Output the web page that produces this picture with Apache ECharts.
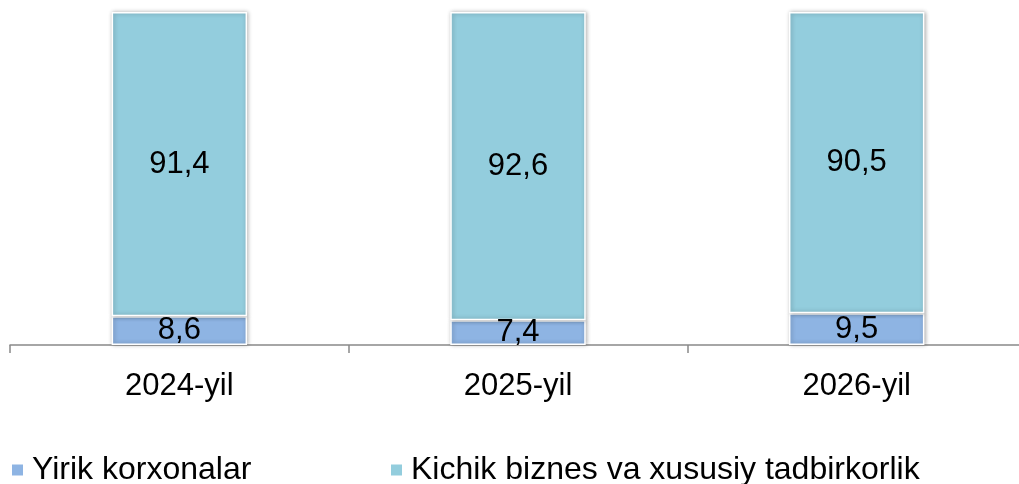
<!DOCTYPE html>
<html>
<head>
<meta charset="utf-8">
<script src="https://cdn.jsdelivr.net/npm/echarts@6/dist/echarts.min.js"></script>
<style>
	html, body { margin: 0; padding: 0; background: #fff; overflow: hidden; }
	#chart { width: 1026px; height: 484px; }
</style>
</head>
<body>
<div id="chart"></div>
<script>
let categories = ['2024-yil', '2025-yil', '2026-yil'];
let largeEnterprises = [8.6, 7.4, 9.5];
let smallBusiness = [91.4, 92.6, 90.5];
let seriesNames = ['Yirik korxonalar', 'Kichik biznes va xususiy tadbirkorlik'];

let font = 'Liberation Sans, Arial, sans-serif';
let colors = ['#8EB4E3', '#93CDDD'];

let chart = echarts.init(document.getElementById('chart'));

let barStyle = (color) => ({
	color: color,
	borderColor: '#ffffff',
	borderWidth: 1.5,
	shadowBlur: 4,
	shadowColor: 'rgba(0,0,0,0.3)',
	shadowOffsetX: 1,
	shadowOffsetY: 0,
});

let label = {
	show: true,
	position: 'inside',
	color: '#000',
	fontFamily: font,
	fontSize: 31,
	formatter: (p) => String(p.value).replace('.', ','),
};

let legendText = {fontFamily: font, fontSize: 32, color: '#000', padding: [0, 0, 0, 4]};

// one legend per item so each can sit where the original puts it
let makeLegend = (name, left) => ({
	left: left,
	top: 454,
	padding: 0,
	icon: 'rect',
	itemWidth: 11,
	itemHeight: 11,
	itemGap: 0,
	itemStyle: {borderWidth: 0, shadowBlur: 0, shadowOffsetX: 0},
	textStyle: legendText,
	data: [name],
});

chart.setOption({
	animation: false,
	backgroundColor: '#ffffff',
	grid: {
		left: 10,
		right: 0,
		top: 12,
		bottom: 139,
		containLabel: false,
	},
	legend: [
		makeLegend(seriesNames[0], 12),
		makeLegend(seriesNames[1], 391),
	],
	xAxis: {
		type: 'category',
		data: categories,
		axisLine: {lineStyle: {color: '#898989', width: 1.5}},
		axisTick: {show: true, length: 8, lineStyle: {color: '#898989', width: 1.5}},
		axisLabel: {
			fontFamily: font,
			fontSize: 31,
			color: '#000',
			margin: 26,
		},
	},
	yAxis: {
		type: 'value',
		min: 0,
		max: 100,
		show: false,
		splitLine: {show: false},
	},
	series: [
		{
			name: seriesNames[0],
			type: 'bar',
			stack: 'total',
			barWidth: '40%',
			data: largeEnterprises,
			itemStyle: barStyle(colors[0]),
			label: label,
		},
		{
			name: seriesNames[1],
			type: 'bar',
			stack: 'total',
			barWidth: '40%',
			data: smallBusiness,
			itemStyle: barStyle(colors[1]),
			label: label,
		},
	],
});
</script>
</body>
</html>
